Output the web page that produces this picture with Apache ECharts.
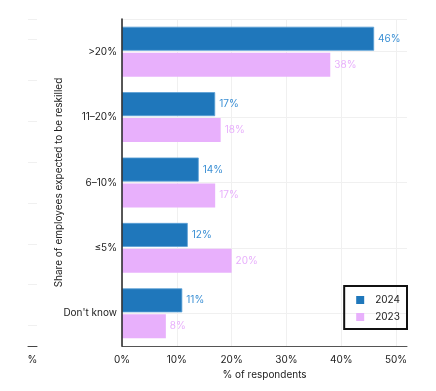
<!DOCTYPE html>
<html><head><meta charset="utf-8">
<script src="https://cdn.jsdelivr.net/npm/echarts@6/dist/echarts.min.js"></script>
<style>html,body{margin:0;padding:0;background:#fff}#c{width:436px;height:391px}</style>
</head><body><div id="c"></div>
<script>
const categories = ['>20%', '11\u201320%', '6\u201310%', '\u22645%', "Don't know"];
const values2024 = [46, 17, 14, 12, 11];
const values2023 = [38, 18, 17, 20, 8];
const seriesNames = ['2024', '2023'];
const xTicks = [0, 10, 20, 30, 40, 50];

const FONT = 'Inter, "Liberation Sans", sans-serif';
const GRID = '#f0f0f0';
const chart = echarts.init(document.getElementById('c'), null, {renderer: 'canvas'});
const halfCats = Array.from({length: categories.length * 2}, () => '');
const ghostCats = Array.from({length: 16}, () => '');
chart.setOption({
  animation: false,
  textStyle: {fontFamily: FONT},
  grid: [
    {left: 122, right: 29, top: 19, bottom: 45},
    {left: 28, width: 9, top: 19, bottom: 45}
  ],
  legend: {
    data: seriesNames,
    orient: 'vertical',
    right: 29, bottom: 62,
    padding: [9, 7, 7, 12],
    itemWidth: 8, itemHeight: 8, itemGap: 7,
    icon: 'rect',
    itemStyle: {borderWidth: 0},
    borderColor: '#111', borderWidth: 2,
    textStyle: {fontSize: 10, color: '#222', fontFamily: FONT, padding: [0, 0, 0, 6]}
  },
  xAxis: [
    {
      type: 'value', gridIndex: 0, min: 0, max: 52, interval: 10,
      name: '% of respondents', nameLocation: 'middle', nameGap: 24,
      nameTextStyle: {fontSize: 10, color: '#222', fontFamily: FONT},
      axisLine: {show: true, lineStyle: {color: '#555', width: 1}},
      axisTick: {show: false},
      axisLabel: {fontSize: 10, color: '#222', fontFamily: FONT, margin: 9,
        showMaxLabel: false,
        formatter: v => xTicks.includes(v) ? v + '%' : ''},
      splitLine: {show: true, lineStyle: {color: [GRID, GRID, GRID, GRID, GRID, GRID, 'rgba(0,0,0,0)'], width: 1}}
    },
    {
      type: 'value', gridIndex: 1, min: 0, max: 1,
      name: '%', nameLocation: 'middle', nameGap: 9,
      nameTextStyle: {fontSize: 10, color: '#222', fontFamily: FONT},
      axisLine: {show: true, lineStyle: {color: '#444', width: 1}},
      axisTick: {show: false}, axisLabel: {show: false}, splitLine: {show: false}
    }
  ],
  yAxis: [
    {
      type: 'category', gridIndex: 0, data: categories, inverse: true,
      name: 'Share of employees expected to be reskilled',
      nameLocation: 'middle', nameGap: 58, nameRotate: 90, nameMoveOverlap: false,
      nameTextStyle: {fontSize: 10, color: '#222', fontFamily: FONT},
      axisLine: {show: true, lineStyle: {color: '#222', width: 1.5}},
      axisTick: {show: false},
      axisLabel: {fontSize: 10, color: '#222', fontFamily: FONT, margin: 5},
      splitLine: {show: false}, z: 5
    },
    {
      type: 'category', gridIndex: 1, data: ghostCats,
      axisLine: {show: false}, axisTick: {show: false}, axisLabel: {show: false},
      splitLine: {show: true, interval: (i) => i % 2 === 1, lineStyle: {color: GRID, width: 1}}
    },
    {
      type: 'category', gridIndex: 0, data: halfCats, position: 'left',
      axisLine: {show: false}, axisTick: {show: false}, axisLabel: {show: false},
      splitLine: {show: true, interval: (i) => i % 2 === 1, lineStyle: {color: GRID, width: 1}}
    }
  ],
  series: [
    {
      name: seriesNames[0], type: 'bar', xAxisIndex: 0, yAxisIndex: 0,
      data: values2024, barWidth: 24, barGap: '8%',
      itemStyle: {color: '#1f77bb', borderColor: '#5a9fd6', borderWidth: 0.8},
      label: {show: true, position: 'right', distance: 4, formatter: '{c}%',
        fontSize: 10, color: '#3a8fd4', fontFamily: FONT}
    },
    {
      name: seriesNames[1], type: 'bar', xAxisIndex: 0, yAxisIndex: 0,
      data: values2023, barWidth: 24, barGap: '8%',
      itemStyle: {color: '#e8b0fc'},
      label: {show: true, position: 'right', distance: 4, formatter: '{c}%',
        fontSize: 10, color: '#e8b0fc', fontFamily: FONT}
    }
  ]
});
</script></body></html>
